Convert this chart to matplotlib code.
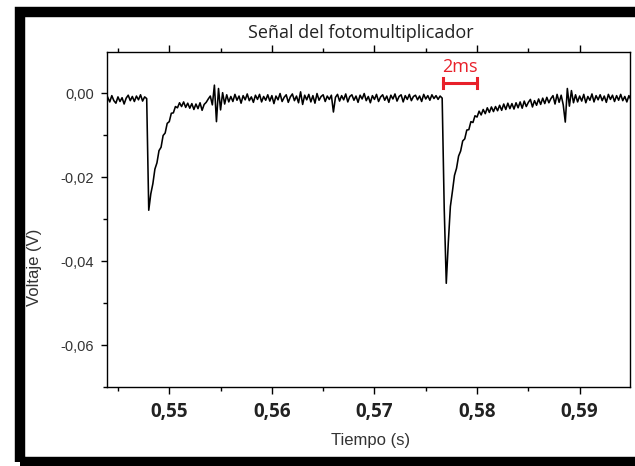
import numpy as np
import matplotlib
matplotlib.use("Agg")
import matplotlib.pyplot as plt
from matplotlib.patches import Rectangle
from matplotlib.ticker import FixedLocator, FuncFormatter

t_start = 0.5440
dt = 0.0002
volt_mv = [
    -1.0, -2.1, -0.6, -1.8, -2.4, -0.9, -2.0, -1.1, -2.6, -1.2,
    -0.5, -1.8, -0.8, -2.0, -0.7, -1.6, -0.4, -1.9, -0.9, -1.3,
    -27.9, -24.0, -21.6, -18.1, -16.6, -13.7, -12.9, -10.1, -9.5, -7.2,
    -6.8, -4.8, -4.7, -3.2, -3.5, -2.3, -3.2, -2.1, -3.4, -2.4,
    -3.6, -2.5, -3.9, -2.6, -3.7, -2.3, -4.1, -2.7, -2.2, -1.4,
    -0.7, -2.8, 1.9, -6.8, 1.1, -4.0, 0.1, -2.6, -0.4, -2.1,
    -0.8, -2.0, -0.3, -1.7, -0.7, -2.4, -0.6, -1.6, -0.2, -1.8,
    -0.9, -2.2, -0.5, -1.5, -0.3, -2.1, -0.8, -1.7, -0.4, -1.9,
    -0.6, -2.5, -0.7, -1.6, -0.1, -2.0, -1.0, -0.4, -2.2, -0.9,
    -0.2, -1.8, -0.7, -2.3, 0.3, -2.7, -0.5, -1.6, -0.3, -2.1,
    -0.6, -2.4, -0.1, -1.7, -0.8, -0.4, -2.0, -0.7, -1.5, -0.5,
    -4.5, -1.0, -0.3, -1.9, -0.6, -1.6, -0.2, -2.1, -0.8, -0.4,
    -1.7, -0.7, -2.2, -0.5, -1.4, -0.1, -1.8, -0.8, -2.3, -0.6,
    -1.5, -0.3, -2.0, -0.9, -0.4, -1.7, -0.7, -2.2, -0.5, -1.4,
    -0.2, -1.9, -0.8, -0.4, -2.1, -0.6, -1.5, -0.3, -1.8, -0.8,
    -0.5, -1.6, -0.7, -2.0, -0.3, -1.4, -0.6, -1.7, -0.4, -1.3,
    -0.6, -1.5, -0.7, -1.2, -27.5, -45.3, -35.5, -27.0, -23.4, -19.6,
    -17.9, -15.0, -13.8, -11.4, -10.9, -8.8, -8.7, -6.8, -7.0, -5.4,
    -5.7, -4.3, -5.2, -3.9, -4.9, -3.5, -4.6, -3.3, -4.4, -3.2,
    -4.2, -2.9, -4.1, -2.6, -3.9, -2.4, -3.7, -2.5, -3.8, -2.3,
    -3.5, -2.1, -3.6, -1.9, -3.2, -2.2, -1.5, -3.3, -1.8, -2.9,
    -1.4, -2.7, -1.2, -2.5, -1.0, -2.3, -1.3, -0.6, -2.6, -0.3,
    -2.2, -0.5, -2.8, -6.9, 1.1, -3.1, 0.6, -2.3, -0.4, -2.1,
    -0.7, -1.9, -0.3, -2.3, -0.8, -1.7, -0.2, -2.1, -0.6, -1.6,
    -0.4, -1.8, -0.7, -2.2, -0.3, -1.5, -0.5, -2.0, -0.6, -1.7,
    -0.3, -1.8, -0.8, -2.1, -0.6, -1.6,
]

x_ticks = [0.55, 0.56, 0.57, 0.58, 0.59]
x_minor = [0.545, 0.555, 0.565, 0.575, 0.585, 0.595]
y_ticks = [0.00, -0.02, -0.04, -0.06]
y_minor = [-0.01, -0.03, -0.05, -0.07]

# 2 ms scale bar
bar_x = [0.57668, 0.5800]
bar_y = 0.0024

volt = np.array(volt_mv) / 1000.0
t = t_start + dt * np.arange(len(volt))

fig = plt.figure(figsize=(6.35, 4.66), dpi=100)

# black frame round the picture
fig.patches.append(Rectangle((20 / 635, 4 / 466), 1.2, 450 / 466, transform=fig.transFigure,
                             fill=False, edgecolor='black', linewidth=7.5, clip_on=False))

ax = fig.add_axes([0.168, 0.1695, 0.824, 0.719])
ax.plot(t, volt, color='black', linewidth=1.15)

red = '#e8202a'
ax.plot(bar_x, [bar_y, bar_y], color=red, linewidth=2.2)
for bx in bar_x:
    ax.plot([bx, bx], [bar_y - 0.0013, bar_y + 0.0013], color=red, linewidth=2.2)
ax.text(sum(bar_x) / 2, 0.0063, '2ms', color=red, fontsize=13, family='Open Sans',
        ha='center', va='center')

ax.set_xlim(0.5439, 0.5949)
ax.set_ylim(-0.070, 0.0098)

ax.xaxis.set_major_locator(FixedLocator(x_ticks))
ax.xaxis.set_minor_locator(FixedLocator(x_minor))
ax.yaxis.set_major_locator(FixedLocator(y_ticks))
ax.yaxis.set_minor_locator(FixedLocator(y_minor))
comma = FuncFormatter(lambda v, p: f'{v:.2f}'.replace('.', ',').replace('-0,00', '0,00'))
ax.xaxis.set_major_formatter(comma)
ax.yaxis.set_major_formatter(comma)

ax.tick_params(axis='x', which='both', direction='out', top=True, bottom=True, width=1.0)
ax.tick_params(axis='x', which='major', length=5, pad=6)
ax.tick_params(axis='x', which='minor', length=3)
ax.tick_params(axis='y', which='both', direction='out', left=True, right=False, width=1.0)
ax.tick_params(axis='y', which='major', length=4, pad=5, labelsize=10.5)
ax.tick_params(axis='y', which='minor', length=3)
for lab in ax.get_xticklabels():
    lab.set_fontfamily('Open Sans')
    lab.set_fontweight('bold')
    lab.set_fontsize(13.5)
    lab.set_color('#222222')
for lab in ax.get_yticklabels():
    lab.set_fontfamily('Liberation Sans')
    lab.set_color('#333333')
for s in ax.spines.values():
    s.set_linewidth(1.0)

fig.text(0.568, 1 - 33 / 466, 'Señal del fotomultiplicador', fontsize=13, family='Open Sans',
         ha='center', va='center', color='#222222')
fig.text(0.583, 1 - 440 / 466, 'Tiempo (s)', fontsize=12, family='Liberation Sans',
         ha='center', va='center', color='#333333')
fig.text(35 / 635, 1 - 267 / 466, 'Voltaje (V)', fontsize=12, family='Liberation Sans',
         ha='center', va='center', rotation=90, color='#333333')

fig.savefig('out.png', dpi=100)
